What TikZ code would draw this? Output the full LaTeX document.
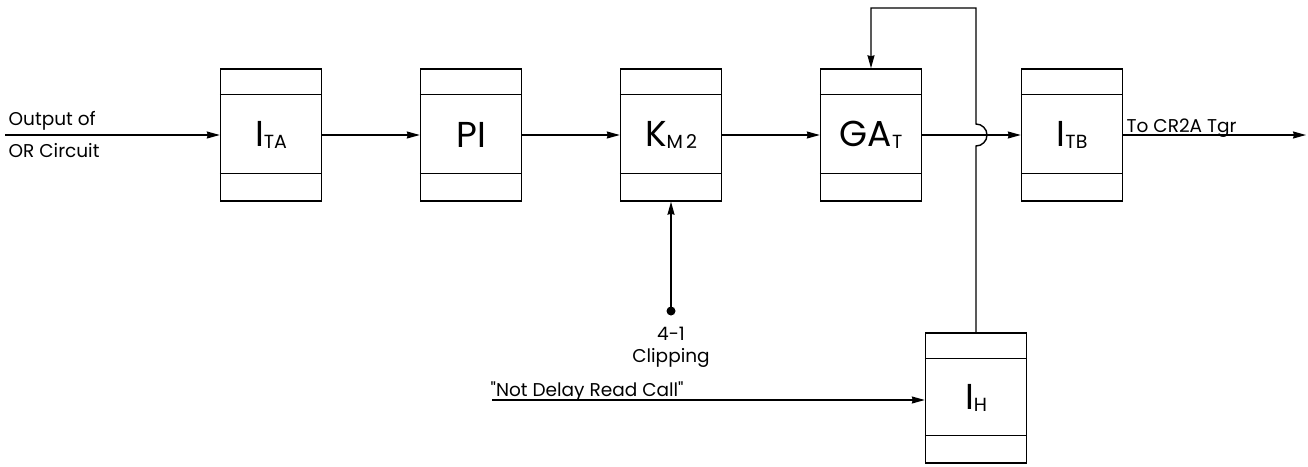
\documentclass[tikz,border=0pt]{standalone}
\usepackage{fontspec}
\setmainfont{Poppins}[Ligatures=TeXOff]
\usetikzlibrary{arrows.meta}
\newcommand{\bigtxt}{\fontsize{36}{36}\selectfont}
\newcommand{\subtxt}{\fontsize{19}{19}\selectfont}
\newcommand{\lbl}[2]{{\bigtxt #1}\raisebox{-1.5pt}{\subtxt #2}}
\begin{document}
\begin{tikzpicture}[x=1pt,y=-1pt,
  line width=1.4pt,
  >={Stealth[length=13pt,width=7pt,inset=1pt]},
  blk/.style={draw,rectangle,minimum width=101pt,minimum height=132pt,inner sep=0pt},
  txt/.style={font=\fontsize{18.5}{18.5}\selectfont,inner sep=0pt}]
\useasboundingbox (0,0) rectangle (1308,466);
\node[blk] (ITA) at (271,135) {\lbl{I}{TA}};
\node[blk] (PI)  at (471,135) {\bigtxt PI};
\node[blk] (KM)  at (671,135) {\lbl{K}{M\,2}};
\node[blk] (GA)  at (871,135) {\lbl{GA}{T}};
\node[blk] (ITB) at (1072,135) {\lbl{I}{TB}};
\node[blk,minimum height=130pt] (IH) at (976,398) {\lbl{I}{H}};
\foreach \n in {ITA,PI,KM,GA,ITB,IH}{
  \draw ([yshift=-26pt]\n.north west) -- ([yshift=-26pt]\n.north east);
  \draw ([yshift=28pt]\n.south west) -- ([yshift=28pt]\n.south east);
}
\coordinate (in) at (5,135);
\coordinate (out) at (1306,135);
\coordinate (dot) at (671,311);
\coordinate (nd) at (492,400);
\draw[->] (in) -- (ITA.west);
\draw[->] (ITA.east) -- (PI.west);
\draw[->] (PI.east) -- (KM.west);
\draw[->] (KM.east) -- (GA.west);
\draw[->] (GA.east) -- (ITB.west);
\draw[->] (ITB.east) -- (out);
\draw[->] (dot) -- (KM.south);
\fill (dot) circle[radius=4.5pt];
\draw[->] (nd) -- (IH.west |- nd);
\draw[->] (IH.north) -- (976,146) arc[start angle=90,end angle=-90,radius=11] -- (976,8) -| (GA.north);
\node[txt,anchor=base west] (t1) at (8,125) {Output of};
\node[txt,anchor=base west] (t2) at (8,157) {OR Circuit};
\node[txt,anchor=base west] (t3) at (1126,132) {To CR2A Tgr};
\node[txt,anchor=base] (t4) at (671,340) {4-1};
\node[txt,anchor=base] (t5) at (671,362) {Clipping};
\node[txt,anchor=base west] (t6) at (490,396) {"Not Delay Read Call"};
\end{tikzpicture}
\end{document}
